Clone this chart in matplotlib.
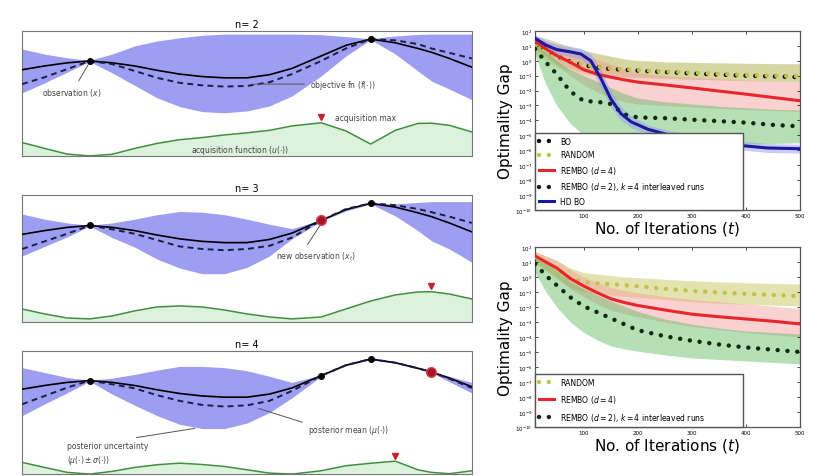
import matplotlib.pyplot as plt
from matplotlib.ticker import LogLocator, NullLocator
import numpy as np

# ---- left: three Bayesian-optimisation snapshots (x and y both run 0..10) ----
x_grid = [0.0, 0.5, 1.0, 1.5, 2.0, 2.5, 3.0, 3.5, 4.0, 4.5, 5.0,
          5.5, 6.0, 6.65, 7.2, 7.75, 8.3, 8.8, 9.1, 9.5, 10.0]
objective = [6.9, 7.2, 7.45, 7.6, 7.45, 7.2, 6.85, 6.55, 6.35, 6.25, 6.25,
             6.5, 7.0, 8.0, 8.85, 9.35, 9.05, 8.6, 8.3, 7.8, 7.1]

mean_n2 = [5.75, 6.3, 6.95, 7.6, 7.35, 6.8, 6.25, 5.85, 5.65, 5.55, 5.6,
           5.9, 6.55, 7.6, 8.6, 9.35, 9.25, 8.95, 8.6, 8.25, 7.8]
upper_n2 = [8.55, 8.15, 7.85, 7.65, 8.15, 8.8, 9.2, 9.45, 9.65, 9.75, 9.75,
            9.75, 9.75, 9.7, 9.55, 9.38, 9.6, 9.72, 9.75, 9.75, 9.75]
lower_n2 = [5.05, 5.85, 6.7, 7.55, 6.65, 5.65, 4.65, 3.95, 3.55, 3.45, 3.6,
            4.0, 4.8, 6.4, 8.0, 9.3, 8.15, 6.8, 6.0, 5.35, 4.5]
acq_n2 = [1.07, 0.6, 0.15, 0.0, 0.13, 0.6, 1.0, 1.3, 1.47, 1.68, 1.85,
          2.05, 2.4, 2.65, 2.0, 0.95, 2.05, 2.6, 2.62, 2.45, 1.92]

mean_n3 = [5.75, 6.35, 6.95, 7.6, 7.3, 6.95, 6.45, 5.95, 5.75, 5.65, 5.75,
           6.0, 6.65, 8.0, 8.9, 9.35, 9.2, 8.9, 8.65, 8.3, 7.8]
upper_n3 = [8.5, 8.1, 7.8, 7.62, 7.8, 8.1, 8.45, 8.7, 8.65, 8.45, 8.1,
            7.7, 7.35, 8.05, 9.0, 9.4, 9.3, 9.42, 9.48, 9.48, 9.48]
lower_n3 = [5.2, 5.95, 6.7, 7.55, 6.65, 5.9, 4.95, 4.25, 3.8, 3.8, 4.3,
            5.2, 6.55, 7.95, 8.75, 9.3, 8.35, 7.2, 6.4, 5.75, 4.7]
acq_n3 = [1.02, 0.63, 0.31, 0.24, 0.47, 0.87, 1.18, 1.26, 1.18, 0.94, 0.63,
          0.39, 0.24, 0.39, 1.02, 1.65, 2.13, 2.36, 2.38, 2.2, 1.81]

mean_n4 = [5.68, 6.35, 7.03, 7.6, 7.3, 6.97, 6.41, 5.95, 5.62, 5.49, 5.59,
           5.95, 6.76, 8.0, 8.85, 9.35, 9.05, 8.6, 8.3, 7.75, 7.0]
upper_n4 = [8.65, 8.25, 7.85, 7.62, 7.8, 8.1, 8.45, 8.75, 8.75, 8.65, 8.4,
            7.95, 7.45, 8.05, 8.9, 9.4, 9.1, 8.65, 8.35, 7.95, 7.45]
lower_n4 = [4.75, 5.7, 6.6, 7.55, 6.5, 5.6, 4.75, 4.05, 3.7, 3.7, 4.15,
            5.0, 6.2, 7.95, 8.8, 9.3, 9.0, 8.55, 8.25, 7.5, 6.6]
acq_n4 = [0.95, 0.54, 0.14, 0.0, 0.22, 0.54, 0.76, 0.89, 0.78, 0.62, 0.35,
          0.08, 0.0, 0.27, 0.68, 0.88, 1.05, 0.35, 0.14, 0.03, 0.27]

obs_n2, new_n2 = [1.5, 7.75], None
obs_n3, new_n3 = [1.5, 7.75], 6.65
obs_n4, new_n4 = [1.5, 6.65, 7.75], 9.1

# ---- right: optimality gap, stored as log10 values ----
iters = [10, 30, 50, 75, 100, 125, 150, 175, 200, 250, 300, 350, 400, 450, 500]

bo_top = [1.2, 0.75, 0.3, -0.05, -0.3, -0.45, -0.55, -0.6, -0.66, -0.76, -0.85, -0.93, -1.0, -1.05, -1.1]
bo_top_hi = [1.7, 1.5, 1.25, 0.95, 0.7, 0.5, 0.3, 0.1, 0.0, -0.08, -0.12, -0.15, -0.17, -0.19, -0.2]
bo_top_lo = [0.8, 0.3, -0.2, -0.5, -0.75, -0.9, -1.0, -1.05, -1.1, -1.17, -1.23, -1.28, -1.33, -1.37, -1.4]
rand_top = [1.0, 0.65, 0.25, -0.05, -0.25, -0.4, -0.5, -0.56, -0.62, -0.72, -0.8, -0.88, -0.95, -1.0, -1.05]
rand_top_hi = [1.5, 1.3, 1.1, 0.85, 0.6, 0.45, 0.3, 0.15, 0.05, -0.05, -0.1, -0.14, -0.17, -0.2, -0.22]
rand_top_lo = [0.5, 0.0, -0.4, -0.7, -0.9, -1.0, -1.05, -1.1, -1.15, -1.2, -1.25, -1.3, -1.34, -1.37, -1.4]
rembo4_top = [1.3, 0.8, 0.35, -0.1, -0.6, -0.9, -1.1, -1.28, -1.43, -1.62, -1.82, -2.03, -2.24, -2.46, -2.68]
rembo4_top_hi = [1.7, 1.3, 1.0, 0.7, 0.4, 0.1, -0.2, -0.5, -0.8, -1.0, -1.1, -1.2, -1.3, -1.35, -1.4]
rembo4_top_lo = [0.9, 0.3, -0.3, -1.0, -1.6, -2.1, -2.5, -2.75, -2.9, -3.0, -3.1, -3.2, -3.27, -3.33, -3.4]
rembo2_top = [0.8, -0.1, -0.9, -2.05, -2.7, -2.75, -2.9, -3.6, -3.8, -3.85, -3.95, -4.05, -4.15, -4.3, -4.4]
rembo2_top_hi = [1.3, 0.6, 0.0, -0.6, -1.0, -1.4, -1.8, -2.2, -2.5, -2.75, -2.9, -3.05, -3.15, -3.25, -3.3]
rembo2_top_lo = [0.4, -1.6, -3.0, -4.2, -5.0, -5.3, -5.5, -5.6, -5.7, -5.6, -5.6, -5.6, -5.6, -5.55, -5.5]

iters_hd = [10, 30, 50, 75, 95, 113, 132, 150, 169, 188, 219, 260, 320, 380, 440, 500]
hdbo_top = [1.5, 1.05, 0.75, 0.6, 0.45, 0.0, -1.2, -2.55, -3.55, -4.1, -4.6, -5.0, -5.35, -5.65, -5.85, -5.9]
hdbo_top_hi = [1.75, 1.35, 1.1, 0.95, 0.85, 0.5, -0.6, -2.0, -3.1, -3.7, -4.3, -4.7, -5.05, -5.35, -5.55, -5.6]
hdbo_top_lo = [1.25, 0.8, 0.45, 0.3, 0.1, -0.5, -1.8, -3.1, -4.0, -4.5, -4.9, -5.3, -5.65, -5.95, -6.15, -6.2]

rand_bot = [1.33, 0.95, 0.55, -0.05, -0.35, -0.42, -0.48, -0.55, -0.62, -0.78, -0.93, -1.03, -1.12, -1.2, -1.27]
rand_bot_hi = [1.7, 1.4, 1.1, 0.6, 0.3, 0.2, 0.1, 0.0, -0.05, -0.15, -0.25, -0.32, -0.38, -0.43, -0.47]
rand_bot_lo = [0.9, 0.4, -0.1, -0.7, -1.0, -1.1, -1.2, -1.3, -1.35, -1.5, -1.65, -1.75, -1.82, -1.88, -1.93]
rembo4_bot = [1.4, 1.0, 0.6, -0.1, -0.6, -1.05, -1.45, -1.7, -1.9, -2.2, -2.48, -2.65, -2.8, -2.95, -3.13]
rembo4_bot_hi = [1.7, 1.4, 1.1, 0.5, 0.0, -0.35, -0.7, -0.9, -1.05, -1.3, -1.5, -1.65, -1.8, -1.95, -2.1]
rembo4_bot_lo = [1.0, 0.5, 0.0, -0.8, -1.3, -1.8, -2.2, -2.45, -2.65, -3.0, -3.3, -3.5, -3.7, -3.85, -4.0]
rembo2_bot = [0.87, 0.1, -0.55, -1.35, -1.95, -2.35, -2.75, -3.15, -3.55, -3.95, -4.25, -4.5, -4.7, -4.85, -5.0]
rembo2_bot_hi = [1.3, 0.9, 0.4, -0.3, -0.8, -1.2, -1.6, -1.95, -2.3, -2.8, -3.15, -3.4, -3.6, -3.7, -3.8]
rembo2_bot_lo = [0.3, -1.0, -2.0, -3.0, -3.7, -4.2, -4.6, -4.8, -4.95, -5.2, -5.4, -5.5, -5.6, -5.7, -5.8]

labels = ['BO', 'RANDOM', 'REMBO ($d=4$)',
          'REMBO ($d=2$), $k=4$ interleaved runs', 'HD BO']

BAND_BLUE = '#9d9df2'
ACQ_FILL = '#dcf2dc'
ACQ_LINE = '#3f8f3f'
NOTE = '#444444'
DOTS = (0, (0.01, 2.2))

fig = plt.figure(figsize=(8.22, 4.77), dpi=100)


def bo_panel(rect, title, mean, upper, lower, acq, obs, new):
    ax = fig.add_axes(rect)
    ax.fill_between(x_grid, lower, upper, color=BAND_BLUE, lw=0, zorder=1)
    ax.fill_between(x_grid, 0, acq, color=ACQ_FILL, lw=0, zorder=1)
    ax.plot(x_grid, acq, color=ACQ_LINE, lw=1.1, zorder=2)
    ax.plot(x_grid, objective, color='black', lw=1.2, zorder=3)
    ax.plot(x_grid, mean, color='#1c1c44', lw=1.4, ls=(0, (3, 2.2)), zorder=3)
    oy = [objective[x_grid.index(v)] for v in obs]
    ax.plot(obs, oy, 'o', color='black', ms=4, zorder=5)
    if new is not None:
        ax.plot([new], [objective[x_grid.index(new)]], 'o', ms=7,
                mfc='#a01828', mec='#e04050', mew=1, zorder=6)
    k = int(np.argmax(acq))
    ax.plot([x_grid[k]], [acq[k] + 0.45], 'v', color='#c8202a', ms=5, zorder=5)
    ax.set_xlim(0, 10)
    ax.set_ylim(0, 10)
    ax.set_xticks([])
    ax.set_yticks([])
    for s in ax.spines.values():
        s.set_color('#777777')
    ax.set_title(title, fontsize=7, pad=3)
    return ax


ax1 = bo_panel([0.027, 0.671, 0.547, 0.262], 'n= 2', mean_n2, upper_n2, lower_n2,
               acq_n2, obs_n2, new_n2)
ax2 = bo_panel([0.027, 0.323, 0.547, 0.266], 'n= 3', mean_n3, upper_n3, lower_n3,
               acq_n3, obs_n3, new_n3)
ax3 = bo_panel([0.027, 0.004, 0.547, 0.258], 'n= 4', mean_n4, upper_n4, lower_n4,
               acq_n4, obs_n4, new_n4)

note = dict(fontsize=5.5, color=NOTE)
line = dict(arrowstyle='-', color='#555555', lw=0.7)
ax1.annotate('observation ($x$)', xy=(1.5, 7.5), xytext=(0.45, 5.1),
             va='center', arrowprops=line, **note)
ax1.annotate('objective fn ($f(\\cdot)$)', xy=(5.1, 5.75), xytext=(6.4, 5.75),
             va='center', arrowprops=line, **note)
ax1.text(6.95, 3.1, 'acquisition max', va='center', **note)
ax1.text(4.85, 0.5, 'acquisition function ($u(\\cdot)$)', ha='center', va='center', **note)
ax2.annotate('new observation ($x_t$)', xy=(6.65, 7.75), xytext=(5.65, 5.2),
             va='center', arrowprops=dict(arrowstyle='-', color='#555555', lw=0.7,
                                          relpos=(0.35, 1.0)), **note)
ax3.annotate('posterior mean ($\\mu(\\cdot)$)', xy=(5.2, 5.4), xytext=(6.35, 3.65),
             va='center', arrowprops=dict(arrowstyle='-', color='#555555', lw=0.7,
                                          relpos=(0.0, 0.9)), **note)
ax3.annotate('posterior uncertainty\n($\\mu(\\cdot)\\pm\\sigma(\\cdot)$)',
             xy=(3.9, 3.75), xytext=(1.0, 1.7), va='center', linespacing=1.3,
             arrowprops=dict(arrowstyle='-', color='#555555', lw=0.7,
                             relpos=(0.6, 1.0)), **note)


def gap_panel(rect, series, spacing):
    ax = fig.add_axes(rect)
    for t, mid, lo, hi, col, band, alpha, style, lab in series:
        ax.fill_between(t, 10.0 ** np.array(lo), 10.0 ** np.array(hi),
                        color=band, alpha=alpha, lw=0, zorder=1)
    for t, mid, lo, hi, col, band, alpha, style, lab in series:
        if style == 'dots':
            ax.plot(t, 10.0 ** np.array(mid), color=col, lw=3.2, ls=DOTS,
                    dash_capstyle='round', label=lab, zorder=3)
        else:
            ax.plot(t, 10.0 ** np.array(mid), color=col, lw=2.2, label=lab, zorder=3)
    ax.set_yscale('log')
    ax.set_xlim(10, 500)
    ax.set_ylim(1e-10, 1e2)
    ax.yaxis.set_major_locator(LogLocator(base=10, numticks=30))
    ax.yaxis.set_minor_locator(NullLocator())
    ax.set_xticks([100, 200, 300, 400, 500])
    ax.tick_params(direction='in', top=True, right=True, length=2, width=0.5,
                   labelsize=4, pad=2)
    for s in ax.spines.values():
        s.set_color('#555555')
        s.set_linewidth(0.9)
    ax.set_ylabel('Optimality Gap', fontsize=11, labelpad=2)
    ax.set_xlabel('No. of Iterations ($t$)', fontsize=11, labelpad=1)
    ax.legend(loc='lower left', bbox_to_anchor=(0, 0, 0.785, 1), mode='expand',
              borderaxespad=0, fontsize=5.5, labelspacing=spacing, borderpad=0.5,
              handlelength=2.0, fancybox=False, framealpha=1, edgecolor='#555555')
    return ax


gap_panel([0.651, 0.558, 0.322, 0.375], [
    (iters, bo_top, bo_top_lo, bo_top_hi, '#111111', '#8c8c70', 0.35, 'dots', labels[0]),
    (iters, rand_top, rand_top_lo, rand_top_hi, '#c2c24a', '#d8d870', 0.45, 'dots', labels[1]),
    (iters, rembo4_top, rembo4_top_lo, rembo4_top_hi, '#e8262a', '#f59a9a', 0.45, 'solid', labels[2]),
    (iters, rembo2_top, rembo2_top_lo, rembo2_top_hi, '#102a10', '#5cb85c', 0.45, 'dots', labels[3]),
    (iters_hd, hdbo_top, hdbo_top_lo, hdbo_top_hi, '#1a1a9a', '#9a9af5', 0.5, 'solid', labels[4]),
], 0.6)
gap_panel([0.651, 0.103, 0.322, 0.377], [
    (iters, rand_bot, rand_bot_lo, rand_bot_hi, '#c2c24a', '#c8c860', 0.5, 'dots', labels[1]),
    (iters, rembo4_bot, rembo4_bot_lo, rembo4_bot_hi, '#e8262a', '#f59a9a', 0.45, 'solid', labels[2]),
    (iters, rembo2_bot, rembo2_bot_lo, rembo2_bot_hi, '#102a10', '#5cb85c', 0.45, 'dots', labels[3]),
], 0.8)

fig.savefig('out.png', dpi=100)
